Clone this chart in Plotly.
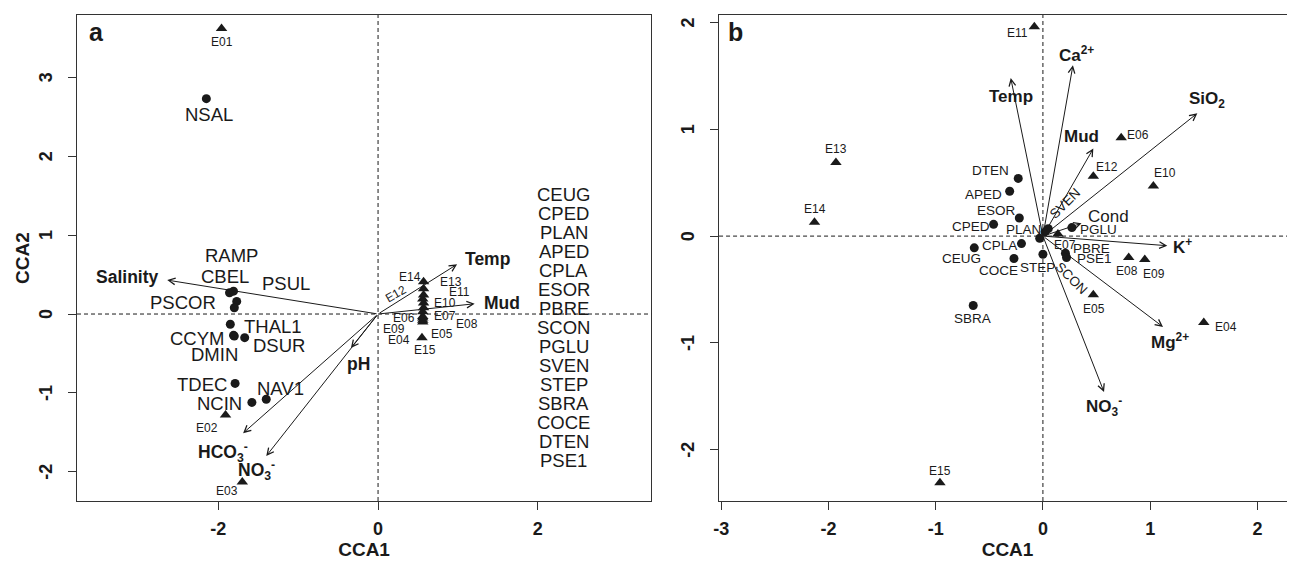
import plotly.graph_objects as go

# ---------------- Panel a data ----------------
site_a_names = ["E01", "E02", "E03", "E04", "E05", "E06", "E07", "E08",
                "E09", "E10", "E11", "E12", "E13", "E14", "E15"]
site_a_x = [-1.96, -1.91, -1.70, 0.56, 0.56, 0.56, 0.57, 0.56,
            0.56, 0.57, 0.57, 0.56, 0.57, 0.57, 0.55]
site_a_y = [3.62, -1.28, -2.13, -0.10, -0.08, 0.03, 0.08, -0.03,
            -0.05, 0.14, 0.24, 0.19, 0.32, 0.41, -0.30]

spec_a_names = ["NSAL", "RAMP", "CBEL", "PSCOR", "PSUL", "THAL1", "CCYM",
                "DMIN", "DSUR", "TDEC", "NCIN", "NAV1"]
spec_a_x = [-2.15, -1.86, -1.81, -1.77, -1.80, -1.85, -1.81,
            -1.80, -1.67, -1.79, -1.58, -1.40]
spec_a_y = [2.73, 0.27, 0.29, 0.16, 0.08, -0.13, -0.27,
            -0.28, -0.30, -0.88, -1.12, -1.08]

env_a_names = ["Salinity", "Temp", "Mud", "pH",
               "HCO<sub>3</sub><sup>-</sup>", "NO<sub>3</sub><sup>-</sup>"]
env_a_x = [-2.64, 0.99, 1.21, -0.34, -1.69, -1.40]
env_a_y = [0.43, 0.63, 0.13, -0.43, -1.51, -1.80]

list_a_top = ["CEUG", "CPED", "PLAN", "APED", "CPLA", "ESOR", "PBRE"]
list_a_bottom = ["SCON", "PGLU", "SVEN", "STEP", "SBRA", "COCE", "DTEN", "PSE1"]

xticks_a = [-2, 0, 2]
yticks_a = [-2, -1, 0, 1, 2, 3]

# ---------------- Panel b data ----------------
site_b_names = ["E04", "E05", "E06", "E07", "E08", "E09", "E10", "E11",
                "E12", "E13", "E14", "E15"]
site_b_x = [1.50, 0.47, 0.73, 0.14, 0.80, 0.95, 1.03, -0.08,
            0.47, -1.93, -2.13, -0.96]
site_b_y = [-0.81, -0.55, 0.92, 0.02, -0.20, -0.22, 0.47, 1.96,
            0.56, 0.69, 0.13, -2.31]

spec_b_names = ["DTEN", "APED", "ESOR", "CPED", "PLAN", "SVEN", "PGLU",
                "CPLA", "CEUG", "COCE", "STEP", "PBRE", "PSE1", "SCON", "SBRA"]
spec_b_x = [-0.23, -0.31, -0.22, -0.46, 0.05, 0.02, 0.27,
            -0.20, -0.64, -0.27, 0.00, 0.21, 0.22, -0.03, -0.65]
spec_b_y = [0.54, 0.42, 0.17, 0.11, 0.07, 0.04, 0.08,
            -0.07, -0.11, -0.21, -0.17, -0.16, -0.20, -0.02, -0.65]

env_b_names = ["Temp", "Ca<sup>2+</sup>", "SiO<sub>2</sub>", "Mud", "Cond",
               "K<sup>+</sup>", "Mg<sup>2+</sup>", "NO<sub>3</sub><sup>-</sup>"]
env_b_x = [-0.30, 0.28, 1.44, 0.47, 0.36, 1.16, 1.12, 0.57]
env_b_y = [1.48, 1.60, 1.15, 0.82, 0.12, -0.09, -0.85, -1.46]

xticks_b = [-3, -2, -1, 0, 1, 2]
yticks_b = [-2, -1, 0, 1, 2]

# ---------------- label placement (pixel offsets, styling) ----------------
site_a_off = {"E01": (0, -14, 0), "E02": (-19, -13, 0), "E03": (-15, -9, 0),
              "E14": (-14, 5, 0), "E13": (27, 7, 0), "E11": (36, 3, 0),
              "E10": (21, 0, 0), "E07": (21, -8, 0), "E08": (44, -8, 0),
              "E06": (-19, -6, 0), "E09": (-29, -11, 0), "E04": (-24, -18, 0),
              "E05": (19, -14, 0), "E15": (3, -12, 0), "E12": (-27, 5, -30)}
spec_a_off = {"NSAL": (3, -16), "RAMP": (2, 37), "CBEL": (-9, 15), "PSCOR": (-54, -1),
              "PSUL": (52, 24), "THAL1": (43, -2), "CCYM": (-37, -3), "DMIN": (-20, -18),
              "DSUR": (34, -8), "TDEC": (-33, -1), "NCIN": (-32, -1), "NAV1": (14, 11)}
env_a_off = {"Salinity": (-40, 3), "Temp": (30, 5), "Mud": (27, 1), "pH": (8, -16),
             "HCO<sub>3</sub><sup>-</sup>": (-20, -19), "NO<sub>3</sub><sup>-</sup>": (-10, -14)}

site_b_off = {"E04": (22, -4, 0), "E05": (1, -14, 0), "E06": (17, 3, 0), "E07": (7, -11, 0),
              "E08": (-2, -14, 0), "E09": (9, -14, 0), "E10": (12, 13, 0), "E11": (-17, -6, 0),
              "E12": (14, 9, 0), "E13": (0, 13, 0), "E14": (1, 13, 0), "E15": (0, 12, 0)}
spec_b_off = {"DTEN": (-28, 8, 0), "APED": (-26, -3, 0), "ESOR": (-23, 7, 0),
              "CPED": (-23, -2, 0), "PLAN": (-25, -1, 0), "SVEN": (20, 28, -45),
              "PGLU": (27, -2, 0), "CPLA": (-22, -2, 0), "CEUG": (-13, -11, 0),
              "COCE": (-15, -12, 0), "STEP": (-5, -13, 0), "PBRE": (26, 5, 0),
              "PSE1": (28, -1, 0), "SCON": (32, -40, 45), "SBRA": (-1, -13, 0)}
env_b_off = {"Temp": (0, -18), "Ca<sup>2+</sup>": (4, 11), "SiO<sub>2</sub>": (10, 13),
             "Mud": (-12, 12), "Cond": (27, 7), "K<sup>+</sup>": (15, 0),
             "Mg<sup>2+</sup>": (7, -14), "NO<sub>3</sub><sup>-</sup>": (0, -14)}

FONT = "Liberation Sans, Arial, sans-serif"
INK = "#1a1a1a"

fig = go.Figure()

# markers
fig.add_trace(go.Scatter(x=site_a_x, y=site_a_y, mode="markers", xaxis="x", yaxis="y",
                         marker=dict(symbol="triangle-up", size=10, color=INK),
                         hoverinfo="skip", showlegend=False))
fig.add_trace(go.Scatter(x=spec_a_x, y=spec_a_y, mode="markers", xaxis="x", yaxis="y",
                         marker=dict(symbol="circle", size=9, color=INK),
                         hoverinfo="skip", showlegend=False))
fig.add_trace(go.Scatter(x=site_b_x, y=site_b_y, mode="markers", xaxis="x2", yaxis="y2",
                         marker=dict(symbol="triangle-up", size=10, color=INK),
                         hoverinfo="skip", showlegend=False))
fig.add_trace(go.Scatter(x=spec_b_x, y=spec_b_y, mode="markers", xaxis="x2", yaxis="y2",
                         marker=dict(symbol="circle", size=9, color=INK),
                         hoverinfo="skip", showlegend=False))

ann = []


def label(xr, yr, x, y, text, dx, dy, size, bold=False, angle=0, xanchor="center"):
    ann.append(dict(x=x, y=y, xref=xr, yref=yr, text=text, showarrow=False,
                    xshift=dx, yshift=dy, textangle=angle, xanchor=xanchor,
                    yanchor="middle",
                    font=dict(family=FONT, size=size, color=INK,
                              weight="bold" if bold else "normal")))


def arrow(xr, yr, x, y):
    ann.append(dict(x=x, y=y, ax=0, ay=0, xref=xr, yref=yr, axref=xr, ayref=yr,
                    text="", showarrow=True, arrowhead=5, arrowsize=1.3,
                    arrowwidth=1, arrowcolor=INK, standoff=0, startstandoff=0))


# panel a
for n, x, y in zip(env_a_names, env_a_x, env_a_y):
    arrow("x", "y", x, y)
    dx, dy = env_a_off[n]
    label("x", "y", x, y, n, dx, dy, 17.5, bold=True)
for n, x, y in zip(site_a_names, site_a_x, site_a_y):
    dx, dy, a = site_a_off[n]
    label("x", "y", x, y, n, dx, dy, 12, angle=a)
for n, x, y in zip(spec_a_names, spec_a_x, spec_a_y):
    dx, dy = spec_a_off[n]
    label("x", "y", x, y, n, dx, dy, 18.5)
for i, n in enumerate(list_a_top):
    label("x domain", "y domain", 0.848, 0.63, n, 0, -19 * i, 18.5)
for i, n in enumerate(list_a_bottom):
    label("x domain", "y domain", 0.848, 0.358, n, 0, -19 * i, 18.5)
label("x domain", "y domain", 0.018, 0.965, "a", 0, 0, 25, bold=True, xanchor="left")

# panel b
for n, x, y in zip(env_b_names, env_b_x, env_b_y):
    arrow("x2", "y2", x, y)
    dx, dy = env_b_off[n]
    label("x2", "y2", x, y, n, dx, dy, 17, bold=(n != "Cond"))
for n, x, y in zip(site_b_names, site_b_x, site_b_y):
    dx, dy, a = site_b_off[n]
    label("x2", "y2", x, y, n, dx, dy, 12, angle=a)
for n, x, y in zip(spec_b_names, spec_b_x, spec_b_y):
    dx, dy, a = spec_b_off[n]
    label("x2", "y2", x, y, n, dx, dy, 13.5, angle=a)
label("x2 domain", "y2 domain", 0.012, 0.965, "b", 0, 0, 25, bold=True, xanchor="left")

# rotated y tick labels (R style, parallel to the axis)
for xr, yr, vals in (("x", "y", yticks_a), ("x2", "y2", yticks_b)):
    for v in vals:
        ann.append(dict(x=0, y=v, xref=xr + " domain", yref=yr, text=str(v),
                        showarrow=False, textangle=-90, xanchor="center",
                        yanchor="middle", xshift=-31,
                        font=dict(family=FONT, size=18, color=INK, weight="bold")))
ann.append(dict(x=0, y=0.5, xref="x domain", yref="y domain", text="CCA2",
                showarrow=False, textangle=-90, xanchor="center", yanchor="middle",
                xshift=-55, font=dict(family=FONT, size=19, color=INK, weight="bold")))

shapes = []
for xr, yr in (("x", "y"), ("x2", "y2")):
    shapes.append(dict(type="line", xref=xr, yref=yr + " domain", x0=0, x1=0, y0=0, y1=1,
                       line=dict(color=INK, width=1, dash="4px,3px")))
    shapes.append(dict(type="line", xref=xr + " domain", yref=yr, x0=0, x1=1, y0=0, y1=0,
                       line=dict(color=INK, width=1, dash="4px,3px")))

tickfont = dict(family=FONT, size=18, color=INK, weight="bold")
titlefont = dict(family=FONT, size=19, color=INK, weight="bold")
common = dict(showline=True, mirror=True, linecolor="#333", linewidth=1,
              ticks="outside", ticklen=8, tickcolor="#333", showgrid=False,
              zeroline=False, tickfont=tickfont, automargin=False)


def tt(vals):
    return [str(v) for v in vals]


fig.update_layout(
    width=1295, height=563,
    margin=dict(l=69, r=7, t=7, b=70),
    paper_bgcolor="white", plot_bgcolor="white",
    showlegend=False,
    annotations=ann, shapes=shapes,
    xaxis=dict(domain=[0, 0.471], range=[-3.77, 3.42], tickvals=xticks_a,
               ticktext=tt(xticks_a), ticklabelstandoff=3,
               title=dict(text="CCA1", font=titlefont, standoff=5), anchor="y", **common),
    yaxis=dict(domain=[0, 1], range=[-2.37, 3.79], tickvals=yticks_a,
               showticklabels=False, anchor="x", **common),
    xaxis2=dict(domain=[0.5267, 1], range=[-3.02, 2.36], tickvals=xticks_b,
                ticktext=tt(xticks_b), ticklabelstandoff=3,
                title=dict(text="CCA1", font=titlefont, standoff=5), anchor="y2", **common),
    yaxis2=dict(domain=[0, 1], range=[-2.48, 2.07], tickvals=yticks_b,
                showticklabels=False, anchor="x2", **common),
)

fig.write_html("out.html")
